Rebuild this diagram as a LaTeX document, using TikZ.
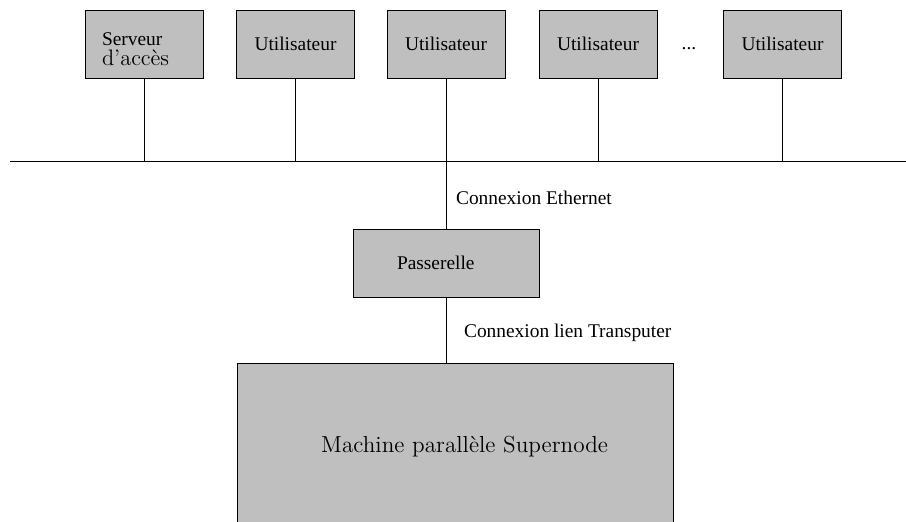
\documentclass[tikz,border=0pt]{standalone}
\usepackage{fontspec}
\newfontfamily\timesfont{Liberation Serif}
\tikzset{
  box/.style={draw,fill=black!25,minimum width=59pt,minimum height=34pt,inner sep=0pt,
    font=\timesfont\fontsize{9.7}{11.5}\selectfont},
  lbl/.style={anchor=west,font=\timesfont\fontsize{9.7}{11.5}\selectfont}
}
\begin{document}
\begin{tikzpicture}[x=0.5pt,y=-0.5pt,thin]
  \clip (0,0) rectangle (906,521);
  % stations on the network
  \node[box,align=left,text width=42pt,inner xsep=8.5pt,
        font=\timesfont\fontsize{9.7}{10}\selectfont] (srv) at (144,44)
        {\rule{0pt}{12pt}Serveur\\{\rmfamily\fontsize{11.2}{10}\selectfont d'accès}};
  \node[box] (usrA) at (295.5,44) {Utilisateur};
  \node[box] (usrB) at (446,44)   {Utilisateur};
  \node[box] (usrC) at (598,44)   {Utilisateur};
  \node[font=\timesfont\fontsize{9.7}{11.5}\selectfont] (dots) at (689,49) {...};
  \node[box] (usrD) at (782.5,44) {Utilisateur};
  % bus
  \coordinate (busL) at (10,161);
  \coordinate (busR) at (906,161);
  \draw (busL)--(busR);
  \draw (srv.south)--(srv.south |- busL);
  \draw (usrA.south)--(usrA.south |- busL);
  \draw (usrC.south)--(usrC.south |- busL);
  \draw (usrD.south)--(usrD.south |- busL);
  % gateway and machine
  \node[box,minimum width=93pt,text width=49pt,inner xsep=22pt,align=left] (gate) at (446,263) {Passerelle};
  \node[box,minimum width=218pt,minimum height=84pt,text width=153pt,inner xsep=32.5pt,align=right,
        font=\fontsize{11.6}{13}\selectfont] (machine) at (455,447) {Machine parallèle Supernode};
  \draw (usrB.south)--(gate.north);
  \draw (gate.south)--(gate.south |- machine.north);
  % labels
  \node[lbl] (lblEth) at (449,198) {Connexion Ethernet};
  \node[lbl] (lblTr)  at (457,333) {Connexion lien Transputer};
\end{tikzpicture}
\end{document}
